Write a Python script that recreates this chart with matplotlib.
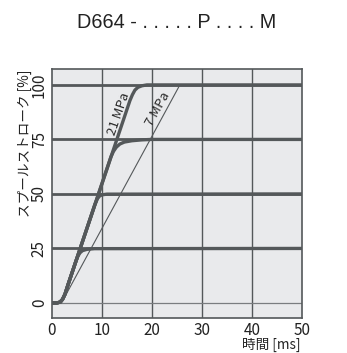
import matplotlib
matplotlib.use("Agg")
import matplotlib.pyplot as plt

plt.rcParams['font.family'] = ['Noto Sans CJK JP', 'DejaVu Sans']

# Spool stroke response curves (time in ms, stroke in %)
t_25 = [0, 1.0, 1.6, 2.1, 2.6, 3.2, 4.8, 5.2, 5.6, 6.1, 7.0, 8.5, 50]
s_25 = [0, 0, 0.4, 1.6, 4.0, 8.3, 19.2, 21.5, 23.0, 24.0, 24.6, 24.9, 25]

t_50 = [0, 1.0, 1.6, 2.1, 2.6, 3.2, 8.6, 9.1, 9.5, 10.0, 11.0, 50]
s_50 = [0, 0, 0.4, 1.6, 4.0, 8.3, 45.2, 47.8, 49.0, 49.6, 49.9, 50]

t_75 = [0, 1.0, 1.6, 2.1, 2.6, 3.2, 11.8, 12.3, 12.9, 13.6, 14.5, 16.0, 18.0, 20.0, 50]
s_75 = [0, 0, 0.4, 1.6, 4.0, 8.3, 67.0, 69.5, 71.5, 72.9, 73.8, 74.4, 74.8, 75.0, 75]

t_100 = [0, 1.0, 1.6, 2.1, 2.6, 3.2, 15.6, 16.1, 16.6, 17.2, 18.0, 19.0, 50]
s_100 = [0, 0, 0.4, 1.6, 4.0, 8.3, 92.8, 95.5, 97.6, 98.9, 99.6, 100, 100]

# Reference ramp at 7 MPa
t_7mpa = [1.9, 25.6]
s_7mpa = [0, 100]

x_ticks = [0, 10, 20, 30, 40, 50]
y_ticks = [0, 25, 50, 75, 100]

W, H = 347, 353
fig = plt.figure(figsize=(W / 100, H / 100), dpi=100)
ax = fig.add_axes([52 / W, 1 - 318 / H, (301.7 - 52) / W, (318 - 69) / H])
ax.set_facecolor('#e9eaec')

dark = '#54585a'
ax.set_xlim(0, 50)
ax.set_ylim(-6.9, 107.3)

# grid
for x in x_ticks[1:-1]:
    ax.axvline(x, color=dark, lw=1.0, zorder=1)
ax.axhline(0, color='#7a7d80', lw=0.9, zorder=1)
for y in y_ticks[1:]:
    ax.axhline(y, color=dark, lw=2.0, zorder=1)

for t, s in [(t_25, s_25), (t_50, s_50), (t_75, s_75), (t_100, s_100)]:
    ax.plot(t, s, color=dark, lw=2.4, solid_capstyle='round', solid_joinstyle='round', zorder=3)
ax.plot(t_7mpa, s_7mpa, color=dark, lw=0.8, zorder=3)

ax.text(13.3, 86.5, '21 MPa', rotation=71, ha='center', va='center', fontsize=9.5, color='#2a2a2a')
ax.text(21.2, 89, '7 MPa', rotation=61, ha='center', va='center', fontsize=9.5, color='#2a2a2a')

for sp in ax.spines.values():
    sp.set_color(dark)
    sp.set_linewidth(1.2)

ax.set_xticks(x_ticks)
ax.set_yticks(y_ticks)
ax.set_xticklabels([str(v) for v in x_ticks], fontsize=11, color='#222222')
ax.set_yticklabels([str(v) for v in y_ticks], fontsize=11, color='#222222', rotation=90, va='center')
ax.tick_params(length=0, pad=3)

fig.text(25 / W, 1 - 70 / H, 'スプールストローク [%]', rotation=90, ha='center', va='top', fontsize=9.8, color='#222222')
fig.text(300 / W, 1 - 345 / H, '時間 [ms]', ha='right', va='center', fontsize=9.8, color='#222222')
fig.text(176.7 / W, 1 - 22 / H, 'D664 - . . . . . P . . . . M', ha='center', va='center',
         fontsize=14.3, family=['Liberation Sans'], color='#222222')

fig.savefig('out.png', dpi=100)
